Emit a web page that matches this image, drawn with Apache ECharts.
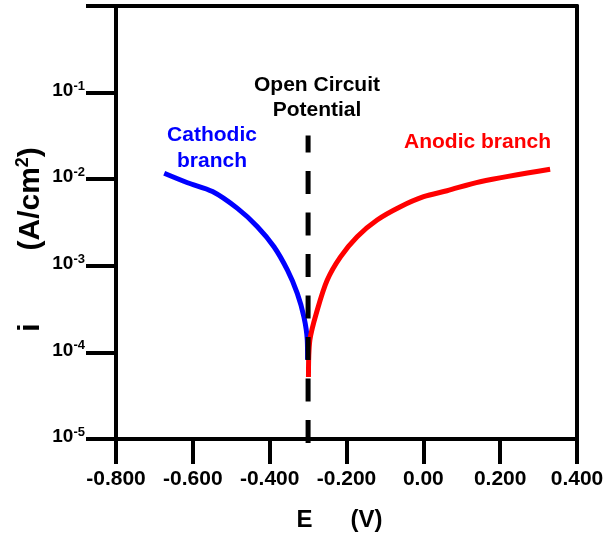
<!DOCTYPE html>
<html>
<head>
<meta charset="utf-8">
<script src="https://cdn.jsdelivr.net/npm/echarts@6/dist/echarts.min.js"></script>
<style>
html,body{margin:0;padding:0;background:#fff;}
#chart{width:610px;height:538px;}
</style>
</head>
<body>
<div id="chart"></div>
<script>
// ---- data ----
const potentialCathodic = [-0.6745, -0.6138, -0.5488, -0.4839, -0.4319, -0.3888, -0.3540, -0.3281, -0.3109, -0.3021, -0.3013];
const currentCathodic   = [1.17e-2, 9.1e-3, 7.2e-3, 4.6e-3, 2.83e-3, 1.66e-3, 8.95e-4, 4.81e-4, 2.58e-4, 1.39e-4, 8.2e-5];
const potentialAnodic   = [-0.2990, -0.2953, -0.2761, -0.2501, -0.2156, -0.1722, -0.1203, -0.0597, 0.0008, 0.0616, 0.148, 0.330];
const currentAnodic     = [5.2e-5, 1.39e-4, 3.09e-4, 6.86e-4, 1.27e-3, 2.17e-3, 3.38e-3, 4.81e-3, 6.28e-3, 7.36e-3, 9.35e-3, 1.30e-2];
const ocpPotential = -0.3;
const ocpCurrentRange = [9.0e-6, 0.032];
const xTickLabels = ['-0.800', '-0.600', '-0.400', '-0.200', '0.00', '0.200', '0.400'];
const yTickExponents = ['-5', '-4', '-3', '-2', '-1', ''];
const xMin = -0.8, xMax = 0.4, xStep = 0.2;
const yMin = 1e-5, yMax = 1;

const FONT = 'Liberation Sans, Arial, Helvetica, sans-serif';
const zip = (a, b) => a.map((v, i) => [v, b[i]]);

const chart = echarts.init(document.getElementById('chart'), null, {renderer: 'canvas'});

const axisLine = {show: true, onZero: false, lineStyle: {color: '#000', width: 4}};

chart.setOption({
  animation: false,
  backgroundColor: '#fff',
  grid: {left: 116, right: 33, top: 6, bottom: 99, containLabel: false},
  xAxis: [{
    type: 'value', min: xMin, max: xMax, interval: xStep, position: 'bottom',
    axisLine: axisLine,
    axisTick: {show: true, inside: false, length: 25, lineStyle: {color: '#000', width: 4}},
    splitLine: {show: false},
    axisLabel: {
      margin: 30, color: '#000', fontFamily: FONT, fontWeight: 'bold', fontSize: 21,
      formatter: v => xTickLabels[Math.round((v - xMin) / xStep)] || ''
    },
    name: '{a|E}{g|}{a|(V)}{p|}',
    nameLocation: 'middle', nameGap: 69, nameMoveOverlap: false,
    nameTextStyle: {
      rich: {
        a: {fontFamily: FONT, fontWeight: 'bold', fontSize: 24, color: '#000'},
        g: {width: 38},
        p: {width: 14}
      }
    }
  }, {
    type: 'value', min: xMin, max: xMax, position: 'top',
    axisLine: axisLine, axisTick: {show: false}, axisLabel: {show: false}, splitLine: {show: false}
  }],
  yAxis: [{
    type: 'log', logBase: 10, min: yMin, max: yMax, position: 'left',
    axisLine: axisLine,
    axisTick: {show: true, inside: false, length: 30, lineStyle: {color: '#000', width: 4}},
    splitLine: {show: false},
    minorTick: {show: false},
    axisLabel: {
      margin: 31, padding: [0, 0, 4, 0],
      formatter: v => {
        const e = yTickExponents[Math.round(Math.log10(v)) + 5];
        return e ? '{b|10}{s|' + e + '}' : '';
      },
      rich: {
        b: {fontFamily: FONT, fontWeight: 'bold', fontSize: 19, color: '#000', lineHeight: 22},
        s: {fontFamily: FONT, fontWeight: 'bold', fontSize: 13, color: '#000', verticalAlign: 'top', lineHeight: 13}
      }
    },
    name: '{a|i}{g|}{a|(A/cm}{s|2}{a|)}{p|}',
    nameLocation: 'middle', nameGap: 68, nameMoveOverlap: false,
    nameTextStyle: {
      rich: {
        a: {fontFamily: FONT, fontWeight: 'bold', fontSize: 30, color: '#000', lineHeight: 34},
        s: {fontFamily: FONT, fontWeight: 'bold', fontSize: 18, color: '#000', verticalAlign: 'top', lineHeight: 18},
        g: {width: 73},
        p: {width: 34}
      }
    }
  }, {
    type: 'log', logBase: 10, min: yMin, max: yMax, position: 'right',
    axisLine: axisLine, axisTick: {show: false}, axisLabel: {show: false}, splitLine: {show: false}
  }],
  series: [{
    name: 'Cathodic branch', type: 'line', data: zip(potentialCathodic, currentCathodic),
    showSymbol: false, symbol: 'none', smooth: 0.3,
    lineStyle: {color: '#0000ff', width: 5}, z: 3
  }, {
    name: 'Anodic branch', type: 'line', data: zip(potentialAnodic, currentAnodic),
    showSymbol: false, symbol: 'none', smooth: 0.3,
    lineStyle: {color: '#ff0000', width: 5}, z: 3
  }, {
    name: 'OCP', type: 'line', data: ocpCurrentRange.map(c => [ocpPotential, c]),
    showSymbol: false, symbol: 'none', clip: false,
    lineStyle: {color: '#000', width: 5, type: [23, 18.5], cap: 'butt'}, z: 5
  }],
  graphic: [{
    type: 'text', x: 317, y: 97.5, z: 10,
    style: {text: 'Open Circuit\nPotential', fill: '#000', font: 'bold 21px ' + FONT, align: 'center', verticalAlign: 'middle', lineHeight: 25}
  }, {
    type: 'text', x: 212, y: 148, z: 10,
    style: {text: 'Cathodic\nbranch', fill: '#0000ff', font: 'bold 21px ' + FONT, align: 'center', verticalAlign: 'middle', lineHeight: 26}
  }, {
    type: 'text', x: 477.5, y: 142.5, z: 10,
    style: {text: 'Anodic branch', fill: '#ff0000', font: 'bold 21px ' + FONT, align: 'center', verticalAlign: 'middle'}
  }]
});
</script>
</body>
</html>
